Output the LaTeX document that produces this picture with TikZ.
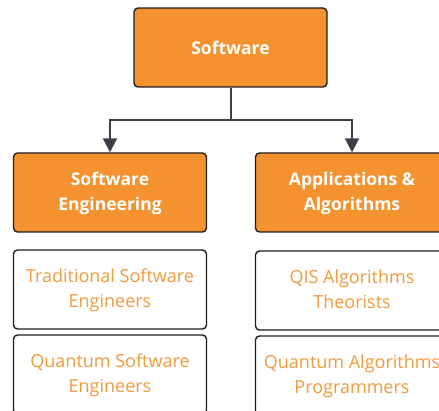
\documentclass[tikz,border=0pt]{standalone}
\usepackage{fontspec}
\setmainfont{Open Sans}
\usetikzlibrary{arrows.meta}
\definecolor{orng}{HTML}{F4922F}
\definecolor{otext}{HTML}{F39A3C}
\definecolor{edge}{HTML}{1E1E1E}
\definecolor{conn}{HTML}{3A3F47}
\newcommand{\twolines}[2]{\raisebox{-5pt}{\begin{tabular}{@{}c@{}}#1\\[-1pt]#2\end{tabular}}}
\tikzset{
  box/.style={draw=edge, line width=1.4pt, rounded corners=4pt, minimum width=193pt, minimum height=79pt, align=center, inner sep=0pt},
  headbox/.style={box, fill=orng, text=white, font=\fontsize{17.5}{26}\selectfont\bfseries},
  rolebox/.style={box, fill=white, text=otext, font=\fontsize{18}{26}\selectfont},
  link/.style={draw=conn, line width=2pt, -{Triangle[width=14pt,length=14pt]}}
}
\begin{document}
\begin{tikzpicture}[x=1pt,y=-1pt]
\useasboundingbox (0,0) rectangle (439,411);
\clip (0,0) rectangle (439,411);
\node[headbox] (sw) at (230.5,47.5) {\raisebox{-1pt}{Software}};
\node[headbox] (se) at (110,192.5) {\twolines{Software}{Engineering}};
\node[headbox] (aa) at (352,192.5) {\twolines{Applications \&}{Algorithms}};
\node[rolebox] (tse) at (110,289.5) {\twolines{Traditional Software}{Engineers}};
\node[rolebox] (qse) at (110,374.5) {\twolines{Quantum Software}{Engineers}};
\node[rolebox] (qat) at (352,290.5) {\twolines{QIS Algorithms}{Theorists}};
\node[rolebox] (qap) at (352,375.5) {\twolines{Quantum Algorithms}{Programmers}};
\coordinate (mid) at (230.5,120);
\draw[link] (sw.south) -- (mid) -| (se.north);
\draw[link] (mid) -| (aa.north);
\end{tikzpicture}
\end{document}
